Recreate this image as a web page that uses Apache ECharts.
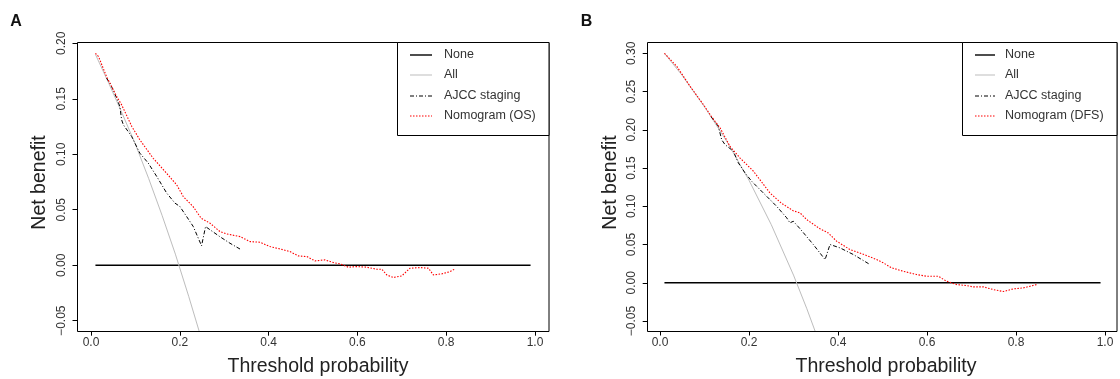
<!DOCTYPE html>
<html>
<head>
<meta charset="utf-8">
<script src="https://cdn.jsdelivr.net/npm/echarts@6/dist/echarts.min.js"></script>
<style>html,body{margin:0;padding:0;background:#fff;}#c{width:1120px;height:379px;}</style>
</head>
<body>
<div id="c"></div>
<script>
// ---- data ----
const xTickLabels = ['0.0','0.2','0.4','0.6','0.8','1.0'];
const yTickLabelsA = ['\u22120.05','0.00','0.05','0.10','0.15','0.20'];
const yTickLabelsB = ['\u22120.05','0.00','0.05','0.10','0.15','0.20','0.25','0.30'];
const legendA = ['None','All','AJCC staging','Nomogram (OS)'];
const legendB = ['None','All','AJCC staging','Nomogram (DFS)'];

const noneLine = [[0.01,0],[0.99,0]];

const allA = [[0.01,0.190],[0.04,0.164],[0.07,0.137],[0.10,0.109],[0.13,0.078],[0.16,0.045],[0.19,0.010],[0.22,-0.028],[0.244,-0.060]];
const ajccA = [[0.035,0.1685],[0.043,0.164],[0.058,0.1505],[0.065,0.143],[0.069,0.131],[0.073,0.1265],[0.0916,0.116],[0.110,0.101],[0.129,0.092],[0.148,0.080],[0.1705,0.065],[0.189,0.056],[0.200,0.053],[0.2155,0.0438],[0.2304,0.0348],[0.249,0.0175],[0.2535,0.019],[0.258,0.0348],[0.29,0.0258],[0.313,0.0198],[0.339,0.0138]];
const nomoA = [[0.01,0.191],[0.017,0.188],[0.035,0.170],[0.058,0.152],[0.069,0.1445],[0.092,0.125],[0.110,0.113],[0.140,0.0964],[0.170,0.083],[0.193,0.0724],[0.208,0.0618],[0.230,0.0528],[0.248,0.0424],[0.268,0.0379],[0.2905,0.0303],[0.3056,0.0282],[0.3356,0.0258],[0.358,0.0213],[0.3806,0.0207],[0.403,0.0168],[0.4257,0.0147],[0.448,0.0123],[0.467,0.0084],[0.486,0.0078],[0.5045,0.0039],[0.527,0.0048],[0.546,0.0024],[0.561,0.0012],[0.5795,-0.0018],[0.598,-0.0012],[0.621,-0.0018],[0.6435,-0.0036],[0.655,-0.0036],[0.666,-0.0087],[0.681,-0.0111],[0.700,-0.0096],[0.7185,-0.0027],[0.741,-0.0021],[0.760,-0.0027],[0.771,-0.0087],[0.790,-0.0078],[0.8086,-0.0058],[0.820,-0.0033]];

const allB = [[0.01,0.300],[0.05,0.271],[0.10,0.230],[0.15,0.185],[0.20,0.134],[0.25,0.076],[0.30,0.010],[0.33,-0.034],[0.349,-0.064]];
const ajccB = [[0.115,0.217],[0.131,0.2046],[0.1386,0.187],[0.146,0.1807],[0.1648,0.172],[0.176,0.1568],[0.191,0.1437],[0.206,0.1327],[0.232,0.1175],[0.247,0.1088],[0.262,0.100],[0.2847,0.0849],[0.292,0.0783],[0.2996,0.0804],[0.3146,0.0707],[0.3445,0.050],[0.371,0.0303],[0.382,0.050],[0.4045,0.0456],[0.4345,0.0369],[0.472,0.0238]];
const nomoB = [[0.01,0.300],[0.0375,0.283],[0.0674,0.257],[0.0974,0.233],[0.116,0.217],[0.135,0.2025],[0.157,0.1785],[0.180,0.163],[0.2097,0.146],[0.247,0.1175],[0.273,0.104],[0.2996,0.094],[0.3146,0.0914],[0.3296,0.0826],[0.3596,0.0705],[0.378,0.0652],[0.397,0.0543],[0.427,0.0434],[0.449,0.039],[0.468,0.0347],[0.4869,0.0303],[0.5018,0.026],[0.5206,0.0195],[0.5468,0.015],[0.5768,0.0107],[0.5993,0.0085],[0.6254,0.0085],[0.644,0.002],[0.6667,-0.0024],[0.689,-0.0037],[0.704,-0.0054],[0.7265,-0.0054],[0.749,-0.0089],[0.7715,-0.0115],[0.794,-0.008],[0.8165,-0.0067],[0.8465,-0.0024]];

// ---- styles ----
const FONT = '"Liberation Sans", Arial, sans-serif';
const styles = {
  none: {color:'#000', width:1.4, type:'solid'},
  all: {color:'#bdbdbd', width:1, type:'solid'},
  ajcc: {color:'#000', width:1, type:[4,2,1,2]},
  nomo: {color:'#ff0000', width:1.1, type:[1.5,1.5]}
};
const keys = ['none','all','ajcc','nomo'];

function xAxisCfg(gi, off){
  return {gridIndex:gi, type:'value', min:0, max:1, interval:0.2, position:'bottom', offset:off,
    axisLine:{show:true, onZero:false, lineStyle:{color:'#000', width:1}},
    axisTick:{show:true, length:4, lineStyle:{color:'#000'}},
    axisLabel:{fontFamily:FONT, fontSize:12, color:'#333', margin:5,
      formatter:v=>xTickLabels[Math.round(v/0.2)]},
    splitLine:{show:false}};
}
function yAxisCfg(gi, max, labels, off){
  return {gridIndex:gi, type:'value', min:-0.05, max:max, interval:0.05, position:'left', offset:off,
    axisLine:{show:true, onZero:false, lineStyle:{color:'#000', width:1}},
    axisTick:{show:true, length:5, lineStyle:{color:'#000'}},
    axisLabel:{fontFamily:FONT, fontSize:12, color:'#333', margin:10, rotate:90,
      formatter:v=>labels[Math.round((v+0.05)/0.05)]},
    splitLine:{show:false}};
}
function mkSeries(gi, arrs){
  return arrs.map((d,i)=>({type:'line', xAxisIndex:gi, yAxisIndex:gi, data:d, showSymbol:false,
    symbol:'none', clip:false, smooth:false, silent:true, z:2+i,
    lineStyle:{color:styles[keys[i]].color, width:styles[keys[i]].width, type:styles[keys[i]].type}}));
}
function legendGraphics(x0, y0, w, h, lx1, lx2, tx, names){
  const g = [{type:'rect', shape:{x:x0, y:y0, width:w, height:h}, style:{fill:'#fff', stroke:'#000', lineWidth:1}, z:10}];
  const rows = [55, 75, 96, 116];
  names.forEach((n,i)=>{
    const s = styles[keys[i]];
    g.push({type:'line', shape:{x1:lx1, y1:rows[i], x2:lx2, y2:rows[i]},
      style:{stroke:s.color, lineWidth:s.width, lineDash:(s.type==='solid'?null:s.type)}, z:11});
    g.push({type:'text', x:tx, y:rows[i], style:{text:n, font:'12.5px '+FONT, fill:'#333', align:'left', verticalAlign:'middle'}, z:11});
  });
  return g;
}
function txt(t, x, y, size, opts){
  return Object.assign({type:'text', x:x, y:y, style:{text:t, font:size+'px '+FONT, fill:'#222', align:'center', verticalAlign:'middle'}, z:12}, opts||{});
}

const graphics = [
  {type:'rect', shape:{x:77.5, y:42.5, width:471.5, height:289}, style:{fill:'none', stroke:'#000', lineWidth:1}, z:9},
  {type:'rect', shape:{x:647.5, y:42.5, width:469.5, height:289}, style:{fill:'none', stroke:'#000', lineWidth:1}, z:9},
  ...legendGraphics(397.5, 42.5, 151.5, 93, 410, 432, 444, legendA),
  ...legendGraphics(962.5, 42.5, 154.5, 93, 975, 995, 1005, legendB),
  txt('Threshold probability', 318, 366.5, 19.5),
  txt('Threshold probability', 886, 366.5, 19.5),
  txt('Net benefit', 40, 182.5, 19.5, {rotation:Math.PI/2}),
  txt('Net benefit', 611, 182.5, 19.5, {rotation:Math.PI/2}),
  {type:'text', x:16, y:21.5, style:{text:'A', font:'bold 16px '+FONT, fill:'#111', align:'center', verticalAlign:'middle'}, z:12},
  {type:'text', x:586.5, y:21.5, style:{text:'B', font:'bold 16px '+FONT, fill:'#111', align:'center', verticalAlign:'middle'}, z:12}
];

const chart = echarts.init(document.getElementById('c'), null, {renderer:'canvas'});
chart.setOption({
  animation:false,
  backgroundColor:'#fff',
  grid:[
    {left:91, top:43.3, width:444, height:277.4, containLabel:false},
    {left:660, top:53.3, width:445, height:267.7, containLabel:false}
  ],
  xAxis:[xAxisCfg(0, 11), xAxisCfg(1, 10.5)],
  yAxis:[yAxisCfg(0, 0.20, yTickLabelsA, 13.5), yAxisCfg(1, 0.30, yTickLabelsB, 12.3)],
  series:[...mkSeries(0,[noneLine, allA, ajccA, nomoA]), ...mkSeries(1,[noneLine, allB, ajccB, nomoB])],
  graphic:graphics
});
</script>
</body>
</html>
